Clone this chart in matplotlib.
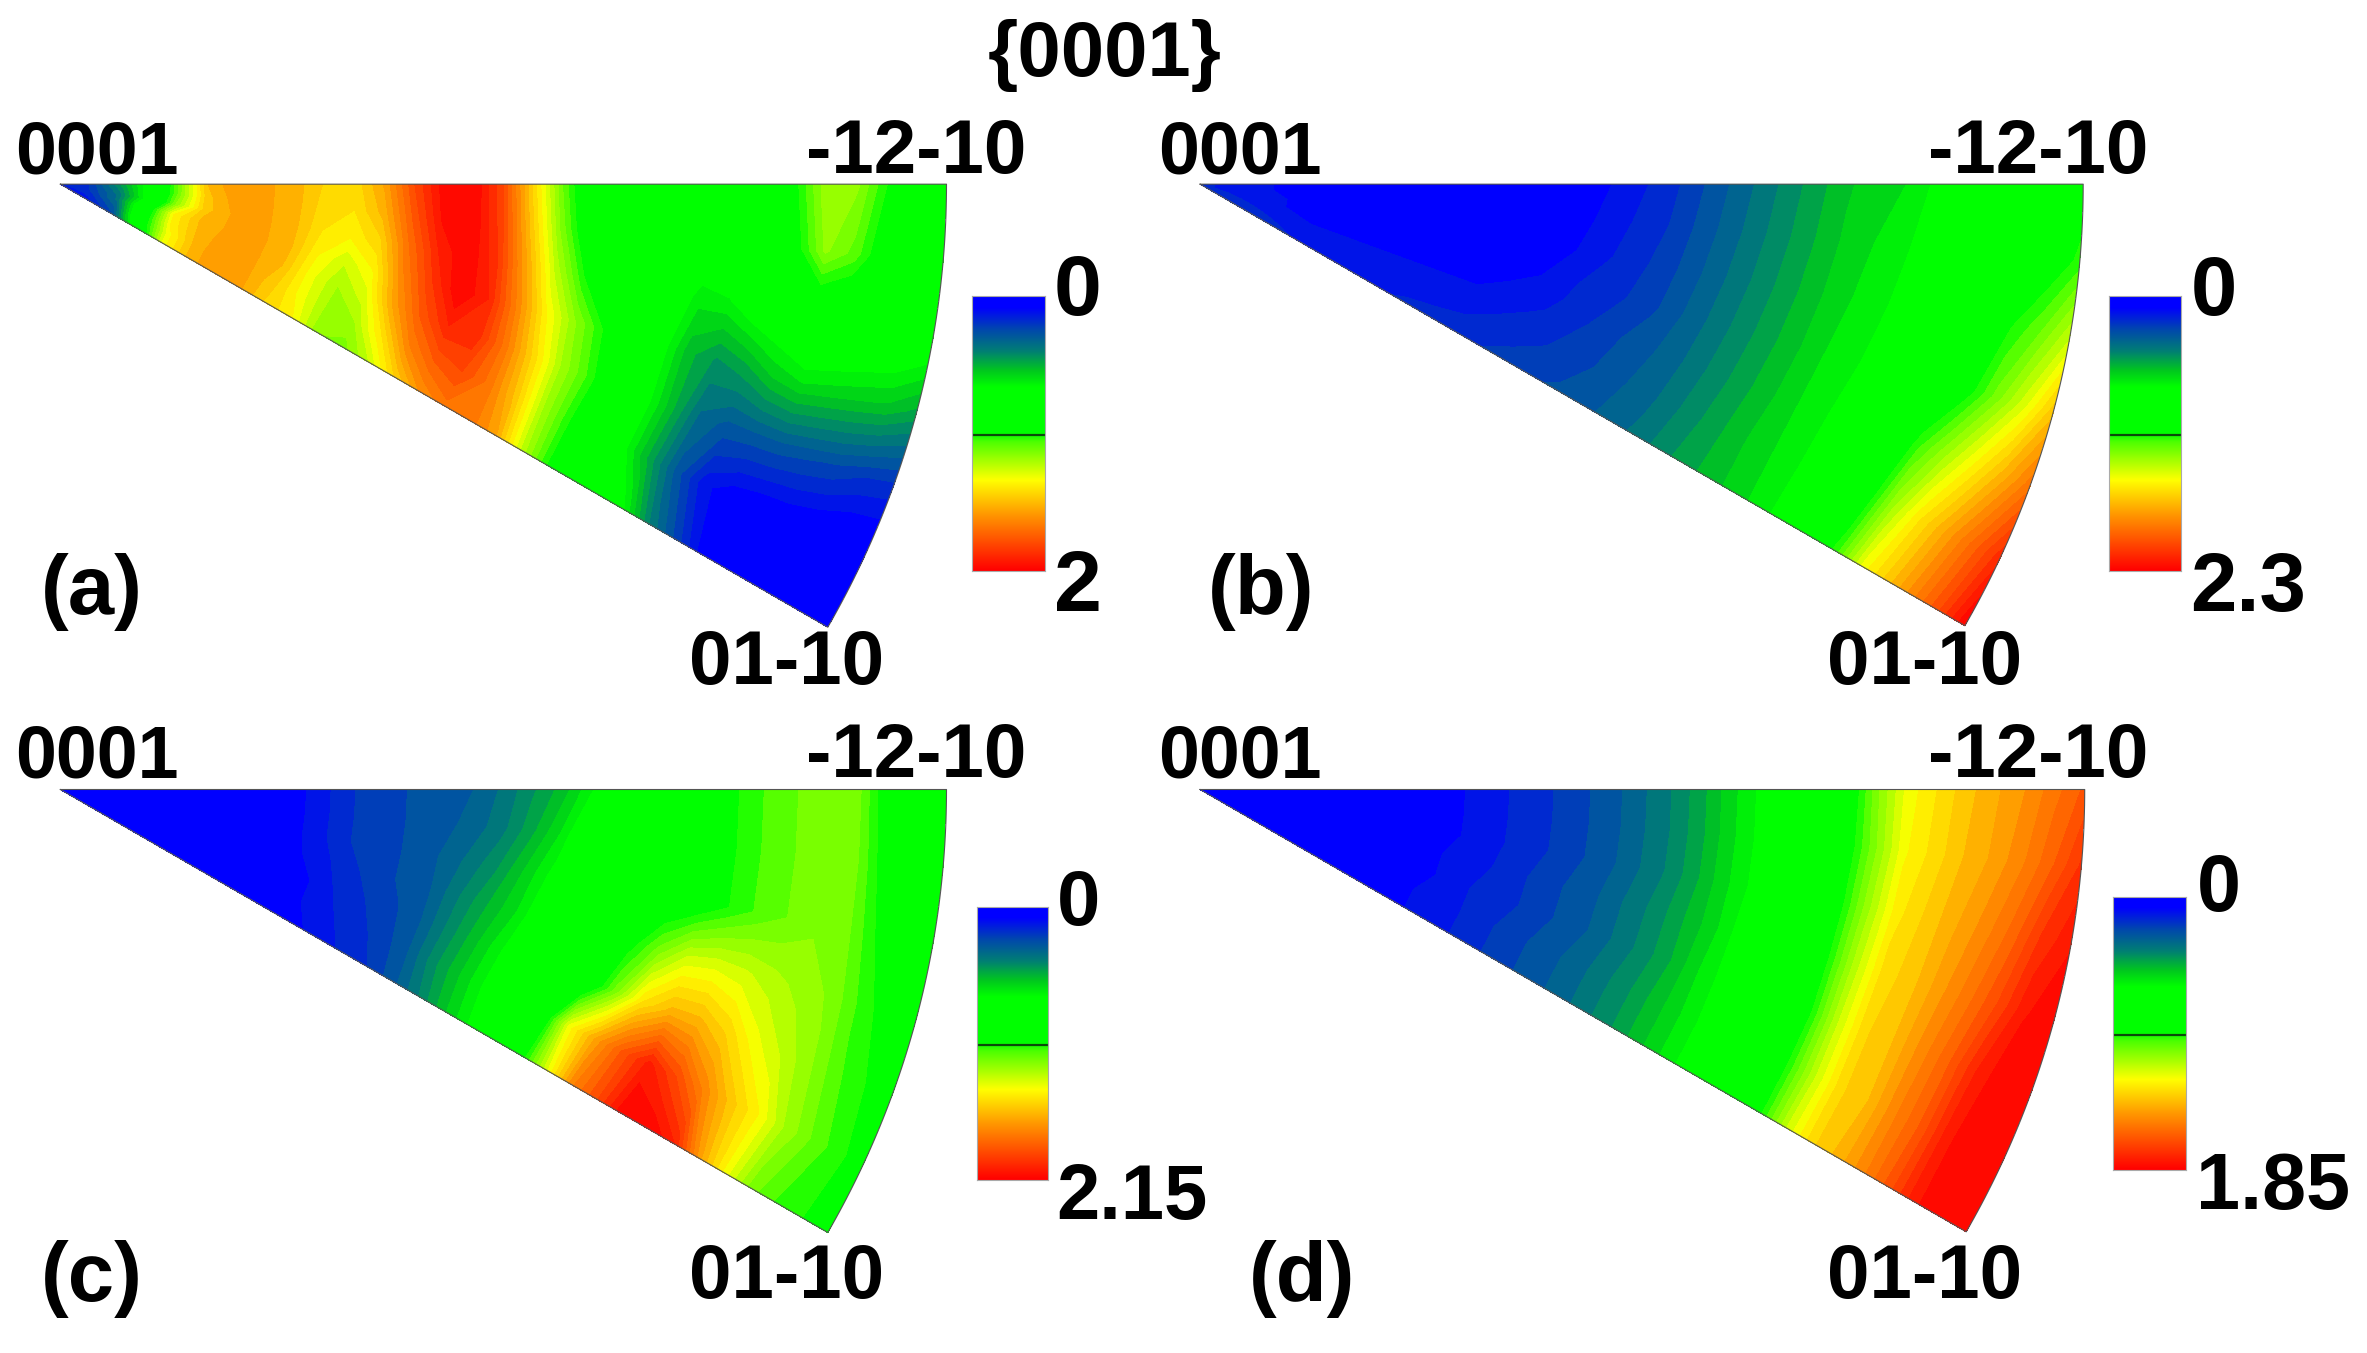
import numpy as np
import matplotlib
matplotlib.use("Agg")
import matplotlib.pyplot as plt
from matplotlib.colors import LinearSegmentedColormap

W, H = 2367, 1353
SCALE = W / 1568  # positions below were read on a 1568 px wide view

plt.rcParams["font.family"] = ["Liberation Sans", "DejaVu Sans"]
plt.rcParams["font.weight"] = "bold"

# grid of the inverse pole figure sector
radius = np.linspace(0, 1, 31)
theta_deg = [0, 5, 10, 15, 20, 25, 30]

# intensity in percent of each colour bar, one row per angle, one column per radius
panel_a = [
    [8, 10, 22, 35, 55, 75, 80, 78, 76, 72, 71, 78, 90, 99, 100, 90, 72, 55, 42, 40, 40, 40, 40, 40, 42, 50, 60, 58, 50, 43, 41],
    [8, 10, 20, 35, 55, 74, 79, 78, 76, 71, 70, 76, 88, 98, 100, 91, 74, 57, 44, 40, 40, 40, 38, 39, 41, 48, 58, 54, 46, 42, 41],
    [7, 10, 18, 35, 58, 74, 78, 78, 76, 70, 68, 72, 85, 95, 100, 93, 78, 62, 50, 41, 39, 37, 31, 32, 36, 38, 42, 41, 40, 39, 37],
    [6, 9, 18, 42, 68, 76, 78, 78, 76, 68, 63, 68, 82, 92, 100, 95, 82, 68, 58, 50, 42, 35, 26, 22, 24, 28, 30, 29, 28, 27, 24],
    [5, 8, 16, 44, 68, 76, 79, 78, 75, 66, 60, 64, 78, 88, 95, 94, 84, 72, 60, 52, 43, 35, 26, 17, 14, 14, 14, 13, 12, 10, 9],
    [4, 7, 14, 44, 66, 76, 80, 78, 73, 66, 59, 60, 70, 82, 88, 90, 84, 74, 60, 50, 42, 34, 24, 14, 6, 3, 2, 2, 1, 0, 0],
    [3, 6, 12, 40, 66, 76, 80, 78, 72, 68, 58, 56, 62, 72, 80, 84, 84, 78, 62, 50, 42, 40, 33, 20, 12, 4, 1, 0, 0, 0, 0],
]
panel_b = [
    [8, 7, 6, 4, 3, 2, 1, 0, 0, 0, 0, 1, 2, 3, 5, 7, 9, 12, 15, 18, 21, 24, 27, 29, 30, 33, 35, 37, 40, 44, 47],
    [8, 7, 6, 4, 3, 2, 1, 0, 0, 0, 0, 1, 2, 4, 6, 8, 10, 13, 16, 19, 22, 25, 28, 30, 32, 34, 36, 39, 42, 46, 51],
    [8, 7, 6, 5, 3, 3, 2, 1, 1, 1, 1, 2, 3, 5, 7, 9, 11, 14, 17, 20, 23, 26, 29, 31, 33, 35, 40, 44, 50, 55, 62],
    [8, 7, 6, 5, 4, 4, 3, 3, 3, 3, 3, 4, 5, 7, 9, 10, 12, 15, 18, 21, 24, 27, 30, 32, 34, 36, 42, 48, 56, 64, 74],
    [9, 8, 7, 6, 5, 5, 5, 5, 5, 5, 5, 6, 7, 8, 10, 12, 14, 16, 19, 22, 25, 28, 31, 33, 35, 42, 52, 60, 68, 76, 84],
    [9, 8, 8, 7, 6, 6, 6, 6, 6, 7, 7, 8, 9, 10, 11, 13, 15, 17, 20, 23, 26, 29, 31, 34, 38, 47, 60, 70, 78, 86, 94],
    [10, 9, 8, 8, 7, 7, 7, 7, 8, 8, 9, 10, 11, 12, 13, 14, 16, 18, 21, 24, 26, 29, 31, 35, 42, 52, 66, 74, 82, 90, 100],
]
panel_c = [
    [0, 0, 0, 0, 0, 0, 0, 2, 4, 7, 10, 11, 13, 14, 15, 18, 22, 26, 32, 40, 41, 42, 46, 50, 53, 55, 57, 56, 47, 43, 42],
    [0, 0, 0, 0, 0, 0, 1, 2, 4, 7, 10, 11, 13, 14, 16, 19, 24, 30, 38, 41, 41, 42, 45, 50, 53, 55, 57, 56, 48, 44, 42],
    [0, 0, 0, 0, 0, 0, 1, 2, 4, 7, 10, 11, 13, 15, 18, 22, 28, 34, 40, 41, 42, 44, 46, 50, 53, 55, 57, 56, 50, 46, 43],
    [0, 0, 0, 0, 0, 0, 1, 2, 4, 6, 9, 11, 13, 15, 20, 25, 30, 37, 41, 44, 48, 56, 63, 64, 63, 61, 59, 57, 52, 48, 45],
    [0, 0, 0, 0, 0, 0, 1, 2, 3, 5, 8, 10, 12, 15, 21, 27, 33, 39, 42, 43, 56, 70, 76, 76, 72, 66, 62, 58, 53, 50, 47],
    [0, 0, 0, 0, 0, 0, 1, 2, 3, 5, 7, 9, 11, 15, 22, 28, 34, 38, 42, 66, 78, 88, 96, 90, 82, 74, 68, 60, 55, 51, 48],
    [0, 0, 0, 0, 0, 0, 0, 1, 2, 4, 6, 8, 10, 14, 20, 27, 33, 38, 47, 64, 82, 90, 100, 100, 95, 78, 66, 56, 52, 50, 50],
]
panel_d = [
    [0, 0, 0, 0, 0, 1, 2, 3, 4, 5, 7, 8, 10, 12, 14, 17, 20, 24, 29, 33, 37, 41, 46, 57, 66, 70, 74, 77, 80, 84, 88],
    [0, 0, 0, 0, 0, 1, 2, 3, 4, 5, 7, 8, 10, 12, 14, 17, 20, 24, 29, 33, 37, 41, 47, 57, 67, 71, 75, 78, 82, 87, 93],
    [0, 0, 0, 0, 0, 1, 2, 3, 4, 5, 7, 8, 10, 12, 14, 17, 20, 24, 29, 33, 38, 42, 48, 59, 69, 73, 77, 81, 86, 93, 97],
    [0, 0, 0, 0, 0, 1, 2, 3, 4, 6, 7, 9, 11, 13, 15, 18, 21, 25, 29, 34, 38, 43, 49, 61, 71, 74, 79, 84, 90, 97, 100],
    [0, 0, 0, 0, 1, 1, 2, 3, 4, 6, 8, 9, 11, 13, 15, 18, 21, 25, 30, 34, 38, 43, 49, 62, 72, 75, 81, 87, 95, 100, 100],
    [0, 0, 0, 0, 1, 2, 3, 4, 5, 6, 8, 10, 12, 14, 16, 19, 22, 26, 30, 34, 38, 43, 50, 62, 72, 75, 82, 88, 97, 100, 100],
    [0, 0, 0, 1, 1, 2, 3, 4, 5, 6, 8, 10, 12, 14, 16, 19, 22, 26, 30, 34, 38, 43, 50, 63, 72, 76, 82, 89, 97, 100, 100],
]

scale_max = [2, 2.3, 2.15, 1.85]
scale_labels = ["2", "2.3", "2.15", "1.85"]
scale_sizes = [62, 60, 56, 57]
panel_tags = ["(a)", "(b)", "(c)", "(d)"]
tables = [panel_a, panel_b, panel_c, panel_d]

# layout, in view pixels
apex = [(40, 122), (795, 122), (40, 523), (795, 523)]
sector_r = [587, 585, 587, 586]
bars = [(644, 196, 692, 378), (1397, 196, 1445, 378), (647, 601, 694, 782), (1400, 594, 1448, 775)]
pole_left = [10, 767, 10, 767]
pole_right = [680, 1423, 680, 1423]
pole_y = [102, 102, 502, 502]
low_pole = [(521, 440), (1275, 440), (521, 847), (1275, 847)]
tag_pos = [(27, 392), (800, 392), (27, 847), (827, 847)]
zero_pos = [(698, 194), (1451, 194), (700, 599), (1455, 590)]
max_pos = [(698, 390), (1451, 390), (700, 794), (1455, 787)]

cmap = LinearSegmentedColormap.from_list("ipf", [
    (0.00, (0, 0, 1)),
    (0.04, (0, 0, 1)),
    (0.12, (0, 0.28, 0.68)),
    (0.20, (0, 0.5, 0.45)),
    (0.27, (0, 0.78, 0.12)),
    (0.33, (0, 1, 0)),
    (0.50, (0, 1, 0)),
    (0.53, (0.3, 1, 0)),
    (0.67, (1, 1, 0)),
    (0.80, (1, 0.58, 0)),
    (1.00, (1, 0, 0)),
])

fig = plt.figure(figsize=(W / 100, H / 100), dpi=100, facecolor="white")


def add_axes_px(x0, y0, x1, y1):
    return fig.add_axes([x0 * SCALE / W, 1 - y1 * SCALE / H, (x1 - x0) * SCALE / W, (y1 - y0) * SCALE / H])


def label(x, y, s, ha="left", size=55):
    fig.text(x * SCALE / W, 1 - y * SCALE / H, s, ha=ha, va="center", fontsize=size, fontweight="bold")


th = np.radians(theta_deg)
R, T = np.meshgrid(radius, th)
X = R * np.cos(T)
Y = -R * np.sin(T)
levels = np.linspace(0, 100, 41)

for k in range(4):
    x0, y0 = apex[k]
    r = sector_r[k]
    ax = add_axes_px(x0, y0, x0 + r, y0 + r * 0.5)
    Z = np.array(tables[k], dtype=float)
    ax.contourf(X, Y, Z, levels=levels, cmap=cmap, vmin=0, vmax=100, antialiased=False)
    arc = np.radians(np.linspace(0, 30, 60))
    ax.plot(np.r_[0, np.cos(arc), 0], np.r_[0, -np.sin(arc), 0], color="#555555", lw=0.8, clip_on=False)
    ax.set_xlim(0, 1)
    ax.set_ylim(-0.5, 0)
    ax.axis("off")

    # colour bar, 0 on top
    bx0, by0, bx1, by1 = bars[k]
    cax = add_axes_px(bx0, by0, bx1, by1)
    grad = np.linspace(0, scale_max[k], 256).reshape(-1, 1)
    cax.imshow(grad, aspect="auto", cmap=cmap, vmin=0, vmax=scale_max[k], extent=[0, 1, scale_max[k], 0])
    cax.axhline(scale_max[k] * 0.505, color="#0a4a0a", lw=1.6)
    cax.set_xticks([])
    cax.set_yticks([])
    for sp in cax.spines.values():
        sp.set_color("#aaaaaa")
        sp.set_linewidth(0.8)

    label(pole_left[k], pole_y[k], "0001", size=53)
    label(pole_right[k], pole_y[k], "-12-10", ha="right")
    label(low_pole[k][0], low_pole[k][1], "01-10", ha="center")
    label(tag_pos[k][0], tag_pos[k][1], panel_tags[k], size=60)
    label(zero_pos[k][0], zero_pos[k][1], "0", size=scale_sizes[k])
    label(max_pos[k][0], max_pos[k][1], scale_labels[k], size=scale_sizes[k])

label(732, 37, "{0001}", ha="center", size=56)

fig.savefig("out.png", dpi=100)
